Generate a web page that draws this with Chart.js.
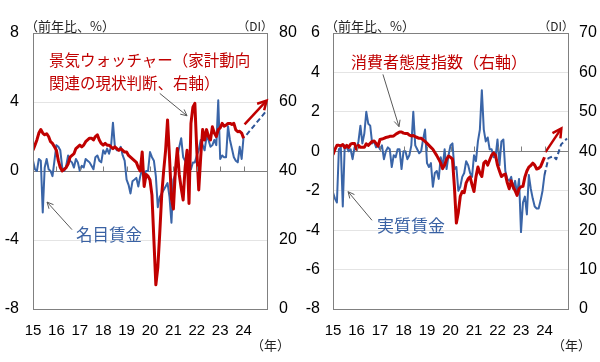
<!DOCTYPE html>
<html>
<head>
<meta charset="utf-8">
<script src="https://cdn.jsdelivr.net/npm/chart.js@4.4.1/dist/chart.umd.min.js"></script>
<style>
  body { margin: 0; background: #fff; }
  #wrap { position: relative; width: 600px; height: 362px; overflow: hidden; font-family: 'Noto Sans CJK JP', sans-serif; }
  canvas { position: absolute; top: 0; }
  .t { position: absolute; white-space: nowrap; line-height: 1; }
  .red { color: #c00000; }
  .blue { color: #3a62a4; }
  .unit { font-size: 13px; color: #222; }
</style>
</head>
<body>
<div id="wrap">
  <canvas id="left" width="300" height="362" style="left:0"></canvas>
  <canvas id="right" width="300" height="362" style="left:300px"></canvas>

  <div class="t unit" style="left:25px; top:19px">（前年比、%）</div>
  <div class="t unit" style="left:173px; width:100px; text-align:right; top:20px; font-size:12px">（DI）</div>
  <div class="t unit" style="left:251px; top:338px">（年）</div>
  <div class="t red" style="left:49px; top:52px; font-size:15.5px">景気ウォッチャー（家計動向</div>
  <div class="t red" style="left:49px; top:75px; font-size:15.5px">関連の現状判断、右軸）</div>
  <div class="t blue" style="left:76px; top:226px; font-size:16.5px">名目賃金</div>

  <div class="t unit" style="left:325px; top:19px">（前年比、%）</div>
  <div class="t unit" style="left:474px; width:100px; text-align:right; top:20px; font-size:12px">（DI）</div>
  <div class="t unit" style="left:552px; top:338px">（年）</div>
  <div class="t red" style="left:351px; top:53px; font-size:16px">消費者態度指数（右軸）</div>
  <div class="t blue" style="left:377px; top:216px; font-size:17px">実質賃金</div>
</div>
<script>
// monthly data, Jan 2015 = index 0
const years = ['15', '16', '17', '18', '19', '20', '21', '22', '23', '24'];

// nominal wage, % y/y (left panel, left axis)
const nominalWage = [
  0.6, 0.1, 0.0, 0.7, 0.6, -2.4, 0.2, 0.7, 0.1, 0.0, -0.3, 0.6,
  1.5, 1.4, 1.2, 0.2, 0.0, 0.3, 0.9, 0.6, 0.5, 0.2, 0.7, 0.5,
  0.0, 0.3, 0.2, 0.7, 0.6, 0.5, 0.3, 0.1, 0.8, 0.9, 0.6, 0.5,
  1.2, 1.0, 1.3, 1.0, 1.4, 2.8, 1.4, 1.2, 1.2, 1.4, 0.9, 0.6,
  -0.5, -0.8, -1.3, -0.6, -0.5, -0.4, -0.9, -0.3, 0.1, -0.2, 0.0, 0.0,
  1.1, 0.8, 0.6, -0.3, -2.1, -1.5, -1.3, -1.1, -0.9, -0.7, -1.5, -3.0,
  -0.5, -0.2, 0.8, 1.4, 1.9, 0.8, 0.6, 0.3, 0.2, 0.1, 0.5, 0.5,
  0.9, 1.2, 1.8, 1.5, 1.2, 2.0, 1.8, 1.4, 1.5, 1.8, 1.5, 4.1,
  0.7, 0.9, 0.8, 0.8, 2.6, 1.8, 1.3, 0.8, 0.6, 0.5, 1.4, 0.7, 2.0
];

// economy watchers, household current DI (left panel, right axis)
const watcherDI = [
  46.0, 47.5, 49.0, 51.0, 52.0, 51.0, 50.5, 50.8, 50.0, 48.5, 48.0, 47.0,
  46.0, 43.0, 41.0, 40.0, 40.5, 41.0, 42.0, 44.0, 44.5, 45.0, 46.5, 47.0,
  47.5, 47.0, 47.5, 48.5, 49.0, 49.5, 49.5, 49.0, 50.0, 50.5, 49.0, 48.0,
  47.5, 48.0, 47.5, 47.5, 47.0, 46.5, 47.0, 46.5, 46.0, 46.5, 46.0, 45.5,
  45.5, 44.5, 44.0, 43.5, 43.0, 42.5, 41.0, 40.0, 45.5, 35.5, 39.0, 38.5,
  37.4, 33.0, 20.0, 7.0, 12.0, 22.0, 33.0, 40.0, 46.0, 54.8, 44.0, 32.0,
  29.0, 40.0, 46.5, 39.0, 35.0, 31.6, 41.0, 46.0, 30.6, 53.8, 58.5, 59.6,
  46.0, 34.5, 44.0, 52.0, 49.0, 52.0, 50.0, 49.0, 52.8, 51.0, 50.0, 52.0,
  52.5, 53.8, 53.0, 53.3, 53.8, 53.8, 53.5, 53.8, 51.9, 51.4, 51.5, 51.0, 49.5
];

// real wage, % y/y (right panel, left axis)
const realWage = [
  -2.1, -2.4, -2.6, 0.1, 0.2, -2.8, 0.3, 0.2, 0.0, 0.1, -0.4, 0.2,
  0.1, 0.5, 1.3, 0.4, 0.9, 2.0, 1.4, 1.3, 0.4, 0.5, 0.2, 0.3,
  0.1, 0.3, -0.4, 0.0, 0.2, 0.1, -0.8, -0.2, -0.3, 0.1, 0.1, -0.9,
  0.0, 0.0, -0.4, -0.2, 0.3, 2.0, 0.3, 0.1, -0.1, 0.0, 0.6, 1.1,
  -0.6, -0.8, -0.6, -1.8, -1.1, -1.0, -1.4, -0.3, -0.8, 0.1, -0.9, -0.2,
  0.3, 0.4, -0.9, -0.8, -2.0, -1.8, -1.3, -1.1, -0.5, -0.7, -1.1, -1.3,
  -0.2, -0.5, 0.5, 1.1, 3.1, 1.1, 0.5, 0.7, 0.1, 0.1, -0.3, -0.3,
  0.6, -0.7, 0.5, 0.6, -1.0, -1.4, -1.5, -1.3, -1.9, -1.5, -2.2, -1.4,
  -4.1, -2.6, -2.3, -3.2, -1.2, -1.9, -2.4, -2.8, -2.9, -2.9, -2.5, -2.0, -1.2
];

// consumer confidence index (right panel, right axis)
const consumerConf = [
  39.1, 40.5, 41.5, 41.5, 41.4, 41.7, 40.9, 41.5, 41.0, 41.8, 42.0, 42.0,
  40.5, 41.5, 41.0, 41.0, 41.0, 41.9, 41.5, 42.0, 42.5, 42.6, 42.0, 41.3,
  43.0, 43.1, 43.3, 43.5, 43.6, 43.8, 43.8, 43.9, 44.3, 44.6, 44.9, 44.9,
  44.6, 44.5, 44.5, 44.1, 43.9, 44.0, 43.7, 43.5, 43.3, 43.3, 42.9, 42.5,
  42.0, 41.5, 41.0, 40.5, 39.7, 38.9, 38.0, 37.0, 35.6, 36.5, 38.0, 38.8,
  38.5, 38.0, 31.0, 21.8, 24.5, 28.6, 29.8, 29.5, 32.0, 33.0, 33.5, 31.5,
  29.8, 33.5, 36.0, 34.5, 33.6, 37.0, 37.5, 36.5, 37.8, 39.0, 39.6, 39.0,
  36.5, 35.0, 33.6, 34.0, 34.2, 32.0, 30.5, 32.5, 31.0, 30.0, 28.8, 30.5,
  31.0, 31.1, 33.5, 35.0, 36.0, 36.4, 37.0, 36.5, 35.5, 35.7, 36.1, 37.3, 38.5
];

// outlook paths (month index, value)
const nominalOutX = [109.5, 119.8];
const nominalOutY = [2.1, 3.5];
const watcherOutX = [108.5, 119.8];
const watcherOutY = [53.5, 60.4];
const realOutX = [108, 110, 112.5, 114, 116.5, 119.5];
const realOutY = [-1.2, -0.35, -0.25, -0.4, 0.35, 0.65];
const confOutX = [108.5, 116.6];
const confOutY = [39.8, 45.8];

const RED = '#c00000';
const BLUE = '#3a65a8';
const DARKBLUE = '#2f5597';

function series(arr) {
  return arr.map((v, i) => ({ x: i, y: v }));
}
function pairs(xs, ys) {
  return xs.map((x, i) => ({ x: x, y: ys[i] }));
}

function makeDeco(pointers) {
  return {
    id: 'deco',
    afterDatasetsDraw(chart) {
      const { ctx, chartArea: a, scales } = chart;
      const sx = scales.x, sy = scales.y;
      ctx.save();
      // frame
      ctx.strokeStyle = '#808080';
      ctx.lineWidth = 1;
      ctx.strokeRect(a.left + 0.5, a.top + 0.5, a.right - a.left, a.bottom - a.top);
      // year ticks on the zero line
      const y0 = Math.round(sy.getPixelForValue(0)) + 0.5;
      ctx.beginPath();
      for (let i = 1; i < years.length; i++) {
        const px = Math.round(sx.getPixelForValue(i * 12)) + 0.5;
        ctx.moveTo(px, y0);
        ctx.lineTo(px, y0 - 5);
      }
      ctx.stroke();
      // arrow heads on outlook lines
      chart.data.datasets.forEach((ds, i) => {
        if (!ds.head) return;
        const pts = chart.getDatasetMeta(i).data;
        const p1 = pts[pts.length - 2], p2 = pts[pts.length - 1];
        const ang = Math.atan2(p2.y - p1.y, p2.x - p1.x);
        ctx.strokeStyle = ds.borderColor;
        ctx.lineWidth = ds.borderWidth;
        ctx.beginPath();
        ctx.moveTo(p2.x - 10 * Math.cos(ang - 0.5), p2.y - 10 * Math.sin(ang - 0.5));
        ctx.lineTo(p2.x, p2.y);
        ctx.lineTo(p2.x - 10 * Math.cos(ang + 0.5), p2.y - 10 * Math.sin(ang + 0.5));
        ctx.stroke();
      });
      // label pointers
      ctx.strokeStyle = '#595959';
      ctx.lineWidth = 1;
      pointers.forEach(p => {
        const x1 = sx.getPixelForValue(p.from[0]), y1 = sy.getPixelForValue(p.from[1]);
        const x2 = sx.getPixelForValue(p.to[0]), y2 = sy.getPixelForValue(p.to[1]);
        const ang = Math.atan2(y2 - y1, x2 - x1);
        ctx.beginPath();
        ctx.moveTo(x1, y1);
        ctx.lineTo(x2, y2);
        ctx.moveTo(x2 - 7 * Math.cos(ang - 0.45), y2 - 7 * Math.sin(ang - 0.45));
        ctx.lineTo(x2, y2);
        ctx.lineTo(x2 - 7 * Math.cos(ang + 0.45), y2 - 7 * Math.sin(ang + 0.45));
        ctx.stroke();
      });
      ctx.restore();
    }
  };
}

const tickFont = { family: 'Liberation Sans', size: 16 };

function makeChart(id, cfg) {
  return new Chart(document.getElementById(id), {
    type: 'line',
    data: {
      datasets: [
        { data: pairs(cfg.diOutX, cfg.diOutY), yAxisID: 'y1', borderColor: RED, borderWidth: 2.5, head: true },
        { data: series(cfg.di), yAxisID: 'y1', borderColor: RED, borderWidth: 3 },
        { data: pairs(cfg.wageOutX, cfg.wageOutY), yAxisID: 'y', borderColor: DARKBLUE, borderWidth: 2, borderDash: [5, 3] },
        { data: series(cfg.wage), yAxisID: 'y', borderColor: BLUE, borderWidth: 2 }
      ]
    },
    options: {
      responsive: false,
      animation: false,
      devicePixelRatio: 1,
      layout: { padding: { top: 33, left: 0, right: 0, bottom: 0 } },
      elements: { point: { radius: 0 }, line: { tension: 0, borderJoinStyle: 'round' } },
      plugins: { legend: { display: false }, tooltip: { enabled: false } },
      scales: {
        x: {
          type: 'linear', min: 0, max: 120,
          grid: { display: false },
          border: { display: false },
          afterFit: s => { s.height = 53; },
          ticks: {
            stepSize: 12, autoSkip: false, maxRotation: 0, padding: 5,
            color: '#000', font: { family: 'Liberation Sans', size: 15 },
            callback: v => (v % 12 === 0 && v < 120) ? years[v / 12] : ''
          }
        },
        y: {
          position: 'left', min: cfg.yMin, max: cfg.yMax,
          border: { display: false },
          grid: { drawTicks: false, color: c => c.tick.value === 0 ? '#7f7f7f' : '#e4e4e4' },
          afterFit: s => { s.width = 33; },
          ticks: { stepSize: cfg.yStep, padding: cfg.leftPad, color: '#000', font: tickFont }
        },
        y1: {
          position: 'right', min: cfg.y1Min, max: cfg.y1Max,
          border: { display: false },
          grid: { display: false, drawTicks: false },
          afterFit: s => { s.width = cfg.rightW; },
          ticks: { stepSize: cfg.y1Step, padding: cfg.rightPad, color: '#000', font: tickFont }
        }
      }
    },
    plugins: [makeDeco(cfg.pointers)]
  });
}

makeChart('left', {
  wage: nominalWage, di: watcherDI,
  wageOutX: nominalOutX, wageOutY: nominalOutY,
  diOutX: watcherOutX, diOutY: watcherOutY,
  yMin: -8, yMax: 8, yStep: 4, y1Min: 0, y1Max: 80, y1Step: 20,
  leftPad: 14, rightPad: 12, rightW: 33,
  pointers: [
    { from: [65, 4.5], to: [79, 3.2] },
    { from: [20, -3.4], to: [7.2, -1.8] }
  ]
});

makeChart('right', {
  wage: realWage, di: consumerConf,
  wageOutX: realOutX, wageOutY: realOutY,
  diOutX: confOutX, diOutY: confOutY,
  yMin: -8, yMax: 6, yStep: 2, y1Min: 0, y1Max: 70, y1Step: 10,
  leftPad: 13, rightPad: 11, rightW: 32,
  pointers: [
    { from: [25.5, 3.9], to: [33.7, 1.25] },
    { from: [19.9, -3.5], to: [7.7, -2.05] }
  ]
});
</script>
</body>
</html>
